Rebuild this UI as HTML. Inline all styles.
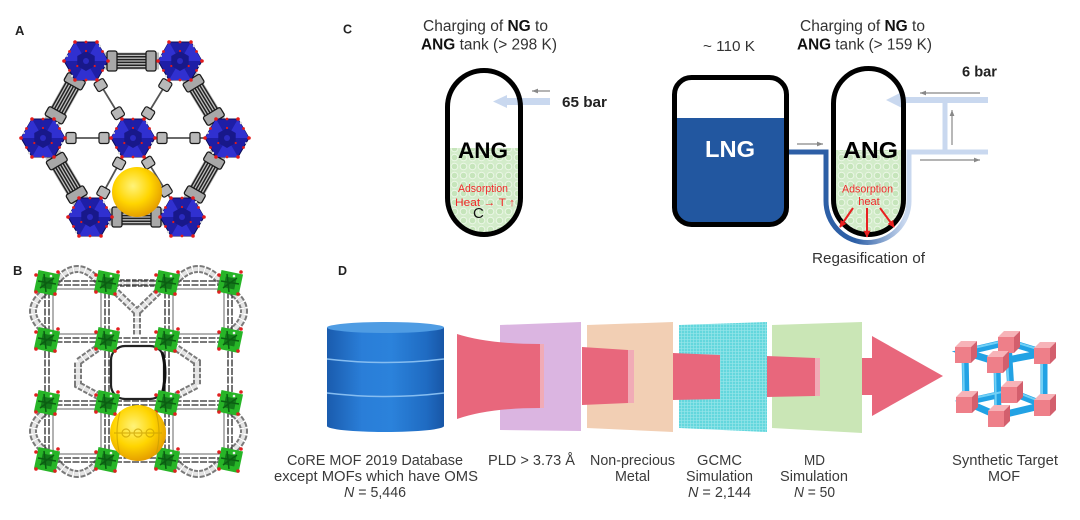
<!DOCTYPE html>
<html><head><meta charset="utf-8"><style>
html,body{margin:0;padding:0;background:#fff}
svg{display:block}
.ch1{fill:none;stroke:#7a7a7a;stroke-width:8;stroke-dasharray:4.5 1.5}
.ch2{fill:none;stroke:#e4e4e4;stroke-width:4;stroke-dasharray:4.5 1.5}
</style></head><body>
<svg width="1080" height="520" viewBox="0 0 1080 520" xmlns="http://www.w3.org/2000/svg" xmlns:xlink="http://www.w3.org/1999/xlink" font-family="'Liberation Sans', Arial, sans-serif">
<defs>
  <radialGradient id="ysph" cx="0.42" cy="0.38" r="0.65">
    <stop offset="0" stop-color="#fff37a"/>
    <stop offset="0.55" stop-color="#ffd500"/>
    <stop offset="1" stop-color="#e39a00"/>
  </radialGradient>
  <linearGradient id="cyl" x1="0" y1="0" x2="1" y2="0">
    <stop offset="0" stop-color="#1a5cae"/>
    <stop offset="0.3" stop-color="#2a7ed8"/>
    <stop offset="0.55" stop-color="#2b82db"/>
    <stop offset="0.85" stop-color="#1f6bc2"/>
    <stop offset="1" stop-color="#1856a6"/>
  </linearGradient>
  <linearGradient id="pipeg" gradientUnits="userSpaceOnUse" x1="855" y1="0" x2="905" y2="0">
    <stop offset="0" stop-color="#2d5fa6"/>
    <stop offset="1" stop-color="#c9d8ef"/>
  </linearGradient>
  <pattern id="bub" width="9" height="9" patternUnits="userSpaceOnUse">
    <rect width="9" height="9" fill="#d3ecca"/>
    <circle cx="4.5" cy="4.5" r="3.3" fill="#c6e5bb" stroke="#ebf7e6" stroke-width="1"/>
  </pattern>
  <pattern id="grid" width="3" height="3" patternUnits="userSpaceOnUse">
    <rect width="3" height="3" fill="#63d7dd"/>
    <path d="M0,0.3H3M0.3,0V3" stroke="#98e6ea" stroke-width="0.7"/>
  </pattern>
  <pattern id="dots" width="2" height="2" patternUnits="userSpaceOnUse">
    <rect width="2" height="2" fill="#f5cbd2"/>
    <circle cx="1" cy="1" r="0.65" fill="#e8677c"/>
  </pattern>
  <clipPath id="t1"><rect x="447.5" y="70.5" width="73" height="164" rx="36.5"/></clipPath>
  <clipPath id="t2"><rect x="674.5" y="77.5" width="112" height="147" rx="17"/></clipPath>
  <clipPath id="t3"><rect x="833.5" y="68.5" width="70" height="166" rx="35"/></clipPath>
  <marker id="ga" viewBox="0 0 10 10" refX="10" refY="5" markerWidth="6" markerHeight="6" orient="auto" markerUnits="userSpaceOnUse">
    <path d="M0,1 L10,5 L0,9 z" fill="#888"/>
  </marker>
  <marker id="ra" viewBox="0 0 10 10" refX="9" refY="5" markerWidth="7" markerHeight="7" orient="auto" markerUnits="userSpaceOnUse">
    <path d="M0,0 L10,5 L0,10 z" fill="#e82020"/>
  </marker>

  <g id="bund">
    <rect x="18" y="-8.5" width="55" height="17" fill="#bdbdbd"/>
    <g stroke="#222" stroke-width="1.5">
      <line x1="22" y1="-7" x2="69" y2="-7"/>
      <line x1="22" y1="-4.2" x2="69" y2="-4.2"/>
      <line x1="22" y1="-1.4" x2="69" y2="-1.4"/>
      <line x1="22" y1="1.4" x2="69" y2="1.4"/>
      <line x1="22" y1="4.2" x2="69" y2="4.2"/>
      <line x1="22" y1="7" x2="69" y2="7"/>
    </g>
    <rect x="21" y="-10" width="10" height="20" rx="2" fill="#a8a8a8" stroke="#1a1a1a" stroke-width="1.3"/>
    <rect x="60" y="-10" width="10" height="20" rx="2" fill="#a8a8a8" stroke="#1a1a1a" stroke-width="1.3"/>
  </g>
  <g id="spk">
    <line x1="18" y1="0" x2="73" y2="0" stroke="#555" stroke-width="1.8"/>
    <rect x="24" y="-5.5" width="10" height="11" rx="2" fill="#b8b8b8" stroke="#1a1a1a" stroke-width="1.2"/>
    <rect x="57" y="-5.5" width="10" height="11" rx="2" fill="#b8b8b8" stroke="#1a1a1a" stroke-width="1.2"/>
  </g>
  <g id="hex">
    <polygon points="22,0 11,19 -11,19 -22,0 -11,-19 11,-19" fill="#1e1ea6" stroke="#0c0c55" stroke-width="1"/>
    <polygon points="0,0 22,0 11,-19" fill="#3030d0"/>
    <polygon points="0,0 -11,-19 -22,0" fill="#3030d0"/>
    <polygon points="0,0 -11,19 11,19" fill="#3030d0"/>
    <polygon points="0,-10 8.7,-5 8.7,5 0,10 -8.7,5 -8.7,-5" fill="#18188a"/>
    <circle r="3" fill="#2a2ac0"/>
    <g fill="#e31b1b">
      <circle cx="22" cy="0" r="1.8"/><circle cx="11" cy="19" r="1.8"/><circle cx="-11" cy="19" r="1.8"/>
      <circle cx="-22" cy="0" r="1.8"/><circle cx="-11" cy="-19" r="1.8"/><circle cx="11" cy="-19" r="1.8"/>
      <circle cx="16.5" cy="9.5" r="1.4"/><circle cx="0" cy="19" r="1.4"/><circle cx="-16.5" cy="9.5" r="1.4"/>
      <circle cx="-16.5" cy="-9.5" r="1.4"/><circle cx="0" cy="-19" r="1.4"/><circle cx="16.5" cy="-9.5" r="1.4"/>
      <circle cx="0" cy="-10" r="1.1"/><circle cx="8.7" cy="5" r="1.1"/><circle cx="-8.7" cy="5" r="1.1"/>
    </g>
    <g fill="#ddd">
      <circle cx="14" cy="-15" r="1.2"/><circle cx="-14" cy="15" r="1.2"/><circle cx="19" cy="5" r="1"/><circle cx="-19" cy="-5" r="1"/>
    </g>
  </g>
  <g id="gn">
    <rect x="-11" y="-11" width="22" height="22" fill="#27b527" transform="rotate(12)"/>
    <rect x="-5.5" y="-5.5" width="11" height="11" fill="#137a1a" transform="rotate(12)"/>
    <path d="M-9,-2 L9,1 M-7,5 L7,-5 M-3,-9 L-1,9" stroke="#0b5e12" stroke-width="1.5"/>
    <g fill="#e02020">
      <circle cx="-11" cy="-8" r="1.8"/><circle cx="11" cy="-11" r="1.8"/><circle cx="8" cy="11" r="1.8"/><circle cx="-11" cy="9" r="1.8"/>
    </g>
    <circle cx="4" cy="-7" r="1.3" fill="#eee"/>
  </g>
  <g id="pc">
    <polygon points="-10,-5 -4,-11 12,-11 6,-5" fill="#f7b3b8"/>
    <polygon points="6,-5 12,-11 12,5 6,11" fill="#d35f6d"/>
    <rect x="-10" y="-5" width="16" height="16" fill="#ee7f89"/>
  </g>
  <path id="chainB" d="M55,283 Q77,255 100,283 M174,283 Q198,255 222,283 M55,460 Q77,488 100,460 M174,460 Q198,488 222,460 M47,290 Q19,311 47,333 M47,410 Q19,431 47,453 M230,290 Q258,311 230,333 M230,410 Q258,431 230,453 M112,288 L137,312 L162,288 M137,312 L137,336 M102,345 L78,362 L78,385 L102,398 M172,345 L197,362 L197,385 L172,398 M114,283 H160"/>
</defs>

<rect width="1080" height="520" fill="#fff"/>

<!-- ================= Panel A ================= -->
<text x="15" y="35" font-size="13" font-weight="bold" fill="#222">A</text>
<g>
  <use xlink:href="#bund" transform="translate(86,61) rotate(0)"/>
  <use xlink:href="#bund" transform="translate(180,61) rotate(58.6)"/>
  <use xlink:href="#bund" transform="translate(227,138) rotate(119.7)"/>
  <use xlink:href="#bund" transform="translate(182,217) rotate(180)"/>
  <use xlink:href="#bund" transform="translate(90,217) rotate(239.3)"/>
  <use xlink:href="#bund" transform="translate(43,138) rotate(-60.8)"/>
  <use xlink:href="#spk" transform="translate(133,138) rotate(-121.4)"/>
  <use xlink:href="#spk" transform="translate(133,138) rotate(-58.6)"/>
  <use xlink:href="#spk" transform="translate(133,138) rotate(180)"/>
  <use xlink:href="#spk" transform="translate(133,138) rotate(0)"/>
  <use xlink:href="#spk" transform="translate(133,138) rotate(118.6)"/>
  <use xlink:href="#spk" transform="translate(133,138) rotate(58.2)"/>
  <use xlink:href="#hex" x="86" y="61"/>
  <use xlink:href="#hex" x="180" y="61"/>
  <use xlink:href="#hex" x="43" y="138"/>
  <use xlink:href="#hex" x="133" y="138"/>
  <use xlink:href="#hex" x="227" y="138"/>
  <use xlink:href="#hex" x="90" y="217"/>
  <use xlink:href="#hex" x="182" y="217"/>
  <circle cx="137" cy="192" r="25" fill="url(#ysph)"/>
</g>

<!-- ================= Panel B ================= -->
<text x="13" y="275" font-size="13" font-weight="bold" fill="#222">B</text>
<g>
  <g fill="none" stroke="#666" stroke-width="1">
    <rect x="53" y="289" width="48" height="45" rx="5"/>
    <rect x="173" y="289" width="51" height="45" rx="5"/>
    <rect x="53" y="409" width="48" height="45" rx="5"/>
    <rect x="173" y="409" width="51" height="45" rx="5"/>
  </g>
  <use xlink:href="#chainB" class="ch1"/>
  <use xlink:href="#chainB" class="ch2"/>
  <g stroke="#2a2a2a" stroke-width="1.3" fill="none" stroke-dasharray="7 1.5">
    <path d="M47,281 H230 M47,285 H230 M47,338 H230 M47,342 H230 M47,401 H230 M47,405 H230 M47,458 H230 M47,462 H230"/>
    <path d="M45,283 V460 M49,283 V460 M105,283 V460 M109,283 V460 M165,283 V460 M169,283 V460 M228,283 V460 M232,283 V460"/>
  </g>
  <rect x="111" y="346" width="53" height="53" rx="14" fill="none" stroke="#222" stroke-width="2.2"/>
  <path d="M162,352 Q168,372 162,395" stroke="#111" stroke-width="3" fill="none"/>
  <g>
    <use xlink:href="#gn" x="47" y="283"/><use xlink:href="#gn" x="107" y="283"/><use xlink:href="#gn" x="167" y="283"/><use xlink:href="#gn" x="230" y="283"/>
    <use xlink:href="#gn" x="47" y="340"/><use xlink:href="#gn" x="107" y="340"/><use xlink:href="#gn" x="167" y="340"/><use xlink:href="#gn" x="230" y="340"/>
    <use xlink:href="#gn" x="47" y="403"/><use xlink:href="#gn" x="107" y="403"/><use xlink:href="#gn" x="167" y="403"/><use xlink:href="#gn" x="230" y="403"/>
    <use xlink:href="#gn" x="47" y="460"/><use xlink:href="#gn" x="107" y="460"/><use xlink:href="#gn" x="167" y="460"/><use xlink:href="#gn" x="230" y="460"/>
  </g>
  <circle cx="138" cy="433" r="28" fill="url(#ysph)"/>
  <g fill="none" stroke="#c9a000" stroke-width="1.2" opacity="0.7">
    <path d="M114,433 H162"/>
    <circle cx="126" cy="433" r="4"/><circle cx="138" cy="433" r="4"/><circle cx="150" cy="433" r="4"/>
    <path d="M120,412 Q114,433 120,455 M156,412 Q162,433 156,455"/>
  </g>
</g>

<!-- ================= Panel C ================= -->
<text x="343" y="33.5" font-size="12.5" font-weight="bold" fill="#222">C</text>
<g fill="#333">
  <text x="423" y="31" font-size="15.5" textLength="125" lengthAdjust="spacingAndGlyphs">Charging of <tspan font-weight="bold" fill="#111">NG</tspan> to</text>
  <text x="421" y="49.5" font-size="15.5" textLength="136" lengthAdjust="spacingAndGlyphs"><tspan font-weight="bold" fill="#111">ANG</tspan> tank (&gt; 298 K)</text>
  <text x="800" y="31" font-size="15.5" textLength="125" lengthAdjust="spacingAndGlyphs">Charging of <tspan font-weight="bold" fill="#111">NG</tspan> to</text>
  <text x="797" y="49.5" font-size="15.5" textLength="135" lengthAdjust="spacingAndGlyphs"><tspan font-weight="bold" fill="#111">ANG</tspan> tank (&gt; 159 K)</text>
  <text x="703" y="51" font-size="15" textLength="52" lengthAdjust="spacingAndGlyphs">~ 110 K</text>
  <text x="812" y="263" font-size="15" textLength="113" lengthAdjust="spacingAndGlyphs">Regasification of</text>
</g>
<text x="562" y="107" font-size="15" font-weight="bold" fill="#222" textLength="45" lengthAdjust="spacingAndGlyphs">65 bar</text>
<text x="962" y="76.5" font-size="15" font-weight="bold" fill="#222" textLength="35" lengthAdjust="spacingAndGlyphs">6 bar</text>

<line x1="550" y1="101.5" x2="505" y2="101.5" stroke="#c9d8ef" stroke-width="7"/>
<polygon points="507,95 493,101.5 507,108" fill="#c9d8ef"/>
<line x1="550" y1="91" x2="532" y2="91" stroke="#888" stroke-width="1.2" marker-end="url(#ga)"/>
<g clip-path="url(#t1)">
  <rect x="440" y="148" width="90" height="95" fill="url(#bub)"/>
</g>
<rect x="447.5" y="70.5" width="73" height="164" rx="36.5" fill="none" stroke="#000" stroke-width="5"/>
<text x="458" y="158" font-size="22" font-weight="bold" fill="#000" textLength="50" lengthAdjust="spacingAndGlyphs">ANG</text>
<text x="458" y="192" font-size="11" fill="#f02a2a" textLength="50" lengthAdjust="spacingAndGlyphs">Adsorption</text>
<text x="455" y="206" font-size="11" fill="#f02a2a" textLength="60" lengthAdjust="spacingAndGlyphs">Heat → T ↑</text>
<text x="473" y="218" font-size="15" fill="#111">C</text>

<path d="M789,152 H826 V201 A41.5,41.5 0 0 0 909,201 V152 H988" fill="none" stroke="url(#pipeg)" stroke-width="5"/>
<line x1="945" y1="100" x2="945" y2="152" stroke="#c9d8ef" stroke-width="5"/>
<line x1="988" y1="100" x2="899" y2="100" stroke="#c9d8ef" stroke-width="6"/>
<polygon points="902,92 886,100 902,108" fill="#c9d8ef"/>
<g stroke="#888" stroke-width="1.2">
  <line x1="797" y1="144" x2="823" y2="144" marker-end="url(#ga)"/>
  <line x1="980" y1="93" x2="920" y2="93" marker-end="url(#ga)"/>
  <line x1="952" y1="145" x2="952" y2="110" marker-end="url(#ga)"/>
  <line x1="920" y1="160" x2="980" y2="160" marker-end="url(#ga)"/>
</g>
<g clip-path="url(#t2)">
  <rect x="670" y="118" width="122" height="112" fill="#2257a0"/>
</g>
<rect x="674.5" y="77.5" width="112" height="147" rx="17" fill="none" stroke="#000" stroke-width="5"/>
<text x="705" y="157" font-size="23" font-weight="bold" fill="#fff" textLength="50" lengthAdjust="spacingAndGlyphs">LNG</text>
<g clip-path="url(#t3)">
  <rect x="830" y="150" width="80" height="90" fill="url(#bub)"/>
</g>
<rect x="833.5" y="68.5" width="70" height="166" rx="35" fill="none" stroke="#000" stroke-width="5"/>
<text x="843" y="158" font-size="23" font-weight="bold" fill="#000" textLength="55" lengthAdjust="spacingAndGlyphs">ANG</text>
<text x="842" y="192.5" font-size="11" fill="#f02a2a" textLength="51" lengthAdjust="spacingAndGlyphs">Adsorption</text>
<text x="869" y="205" font-size="11" fill="#f02a2a" text-anchor="middle">heat</text>
<g stroke="#e82020" stroke-width="2">
  <line x1="853" y1="208" x2="840" y2="227" marker-end="url(#ra)"/>
  <line x1="867" y1="208" x2="867" y2="237" marker-end="url(#ra)"/>
  <line x1="880" y1="208" x2="894" y2="227" marker-end="url(#ra)"/>
</g>

<!-- ================= Panel D ================= -->
<text x="338" y="275" font-size="12.5" font-weight="bold" fill="#222">D</text>
<path d="M327,327.5 V426 A58.5,6 0 0 0 444,426 V327.5 Z" fill="url(#cyl)"/>
<ellipse cx="385.5" cy="327.5" rx="58.5" ry="5.5" fill="#4f9ce3"/>
<g fill="none" stroke="#86bdf0" stroke-width="1.5">
  <path d="M327,359 Q385.5,366 444,359"/>
  <path d="M327,393 Q385.5,400 444,393"/>
</g>
<path d="M500,325 L581,322 L581,431 L500,430 Z" fill="#dbb5e1"/>
<path d="M587,325 L673,322 L673,432 L587,428 Z" fill="#f2cfb4"/>
<path d="M679,325 L767,322 L767,432 L679,428 Z" fill="url(#grid)"/>
<path d="M772,325 L862,322 L862,433 L772,428 Z" fill="#cae6b6"/>
<path d="M457,334 Q488,344 540,344 L540,408 Q488,408 457,419 Z" fill="#e8677c"/>
<rect x="540" y="344" width="4" height="64" fill="url(#dots)"/>
<path d="M582,347 L628,350 L628,403 L582,405 Z" fill="#e8677c"/>
<rect x="628" y="350" width="6" height="53" fill="url(#dots)"/>
<path d="M673,353 L720,355 L720,399 L673,400 Z" fill="#e8677c"/>
<path d="M767,356 L815,358 L815,396 L767,397 Z" fill="#e8677c"/>
<rect x="815" y="358" width="5" height="38" fill="url(#dots)"/>
<path d="M862,358 L872,358 L872,336 L943,376 L872,416 L872,395 L862,395 Z" fill="#e8677c"/>
<g stroke-linecap="round">
  <g stroke="#22a2e4" stroke-width="7" fill="none">
    <path d="M965,352 L1008,342 L1044,353 L997,362 Z"/>
    <path d="M966,402 L1011,392 L1044,405 L998,416 Z"/>
    <path d="M965,352 L966,402 M1008,342 L1011,392 M1044,353 L1044,405 M997,362 L998,416"/>
  </g>
  <g stroke="#70d0f6" stroke-width="2" fill="none">
    <path d="M965,350 L1008,340 L1044,351 M965,400 L1011,390 L1044,403"/>
    <path d="M963,352 L964,402 M1006,342 L1009,392 M1042,353 L1042,405 M995,362 L996,416"/>
  </g>
</g>
<use xlink:href="#pc" x="1011" y="392"/>
<use xlink:href="#pc" x="1008" y="342"/>
<use xlink:href="#pc" x="966" y="402"/>
<use xlink:href="#pc" x="965" y="352"/>
<use xlink:href="#pc" x="1044" y="405"/>
<use xlink:href="#pc" x="1044" y="353"/>
<use xlink:href="#pc" x="998" y="416"/>
<use xlink:href="#pc" x="997" y="362"/>

<g fill="#3a3a3a" font-size="15">
  <text x="287" y="465" textLength="176" lengthAdjust="spacingAndGlyphs">CoRE MOF 2019 Database</text>
  <text x="274" y="481" textLength="204" lengthAdjust="spacingAndGlyphs">except MOFs which have OMS</text>
  <text x="344" y="497" textLength="62" lengthAdjust="spacingAndGlyphs"><tspan font-style="italic">N</tspan> = 5,446</text>
  <text x="488" y="465" textLength="87" lengthAdjust="spacingAndGlyphs">PLD &gt; 3.73 Å</text>
  <text x="590" y="465" textLength="85" lengthAdjust="spacingAndGlyphs">Non-precious</text>
  <text x="615" y="481" textLength="35" lengthAdjust="spacingAndGlyphs">Metal</text>
  <text x="697" y="465" textLength="45" lengthAdjust="spacingAndGlyphs">GCMC</text>
  <text x="686" y="481" textLength="67" lengthAdjust="spacingAndGlyphs">Simulation</text>
  <text x="688" y="497" textLength="63" lengthAdjust="spacingAndGlyphs"><tspan font-style="italic">N</tspan> = 2,144</text>
  <text x="804" y="465" textLength="21" lengthAdjust="spacingAndGlyphs">MD</text>
  <text x="780" y="481" textLength="68" lengthAdjust="spacingAndGlyphs">Simulation</text>
  <text x="794" y="497" textLength="41" lengthAdjust="spacingAndGlyphs"><tspan font-style="italic">N</tspan> = 50</text>
  <text x="952" y="465" textLength="106" lengthAdjust="spacingAndGlyphs">Synthetic Target</text>
  <text x="988" y="481" textLength="32" lengthAdjust="spacingAndGlyphs">MOF</text>
</g>
</svg>
</body></html>
